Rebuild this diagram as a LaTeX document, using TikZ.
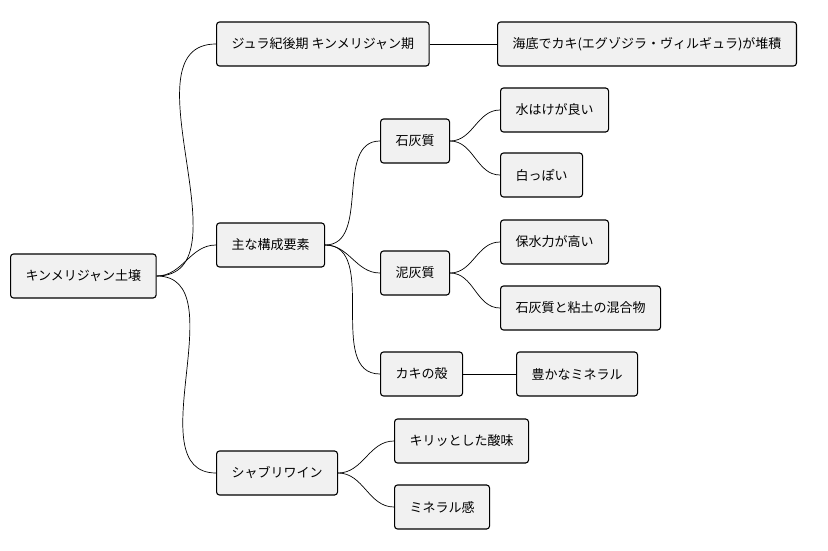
\documentclass[tikz,border=0pt]{standalone}
\usepackage{fontspec}
\setmainfont{Noto Sans CJK JP}
\usetikzlibrary{positioning}
\definecolor{boxgray}{HTML}{F1F1F1}
\begin{document}
\begin{tikzpicture}[
    x=1pt, y=-1pt,
    font=\fontsize{13}{15}\selectfont,
    box/.style={rectangle, draw, line width=1.1pt, rounded corners=3pt, fill=boxgray, minimum height=44pt, inner xsep=15pt, anchor=west},
    link/.style={line width=0.7pt, out=0, in=180}
]
    \useasboundingbox (0,0) rectangle (828,551);
    % Root
    \node[box] (soil) at (10,276) {キンメリジャン土壌};
    % First level
    \node[box] (era) at (216,44) {ジュラ紀後期 キンメリジャン期};
    \node[box] (parts) at (216,245) {主な構成要素};
    \node[box] (chablis) at (216,473) {シャブリワイン};
    % Second level
    \node[box] (oyster) at (497,44) {海底でカキ(エグゾジラ・ヴィルギュラ)が堆積};
    \node[box] (lime) at (380,141) {石灰質};
    \node[box] (marl) at (380,273) {泥灰質};
    \node[box] (shell) at (380,374) {カキの殻};
    \node[box] (acid) at (394,441) {キリッとした酸味};
    \node[box] (mineral) at (394,507) {ミネラル感};
    % Third level
    \node[box] (drain) at (500,110) {水はけが良い};
    \node[box] (white) at (500,175) {白っぽい};
    \node[box] (water) at (500,242) {保水力が高い};
    \node[box] (mix) at (500,308) {石灰質と粘土の混合物};
    \node[box] (rich) at (516,374) {豊かなミネラル};
    % Links
    \foreach \x in {era, parts, chablis} {
        \draw[link] (soil.east) to (\x.west);
    }
    \foreach \x in {lime, marl, shell} {
        \draw[link] (parts.east) to (\x.west);
    }
    \foreach \x in {acid, mineral} {
        \draw[link] (chablis.east) to (\x.west);
    }
    \foreach \x in {drain, white} {
        \draw[link] (lime.east) to (\x.west);
    }
    \foreach \x in {water, mix} {
        \draw[link] (marl.east) to (\x.west);
    }
    \draw[link] (era.east) -- (oyster.west);
    \draw[link] (shell.east) -- (rich.west);
\end{tikzpicture}
\end{document}
